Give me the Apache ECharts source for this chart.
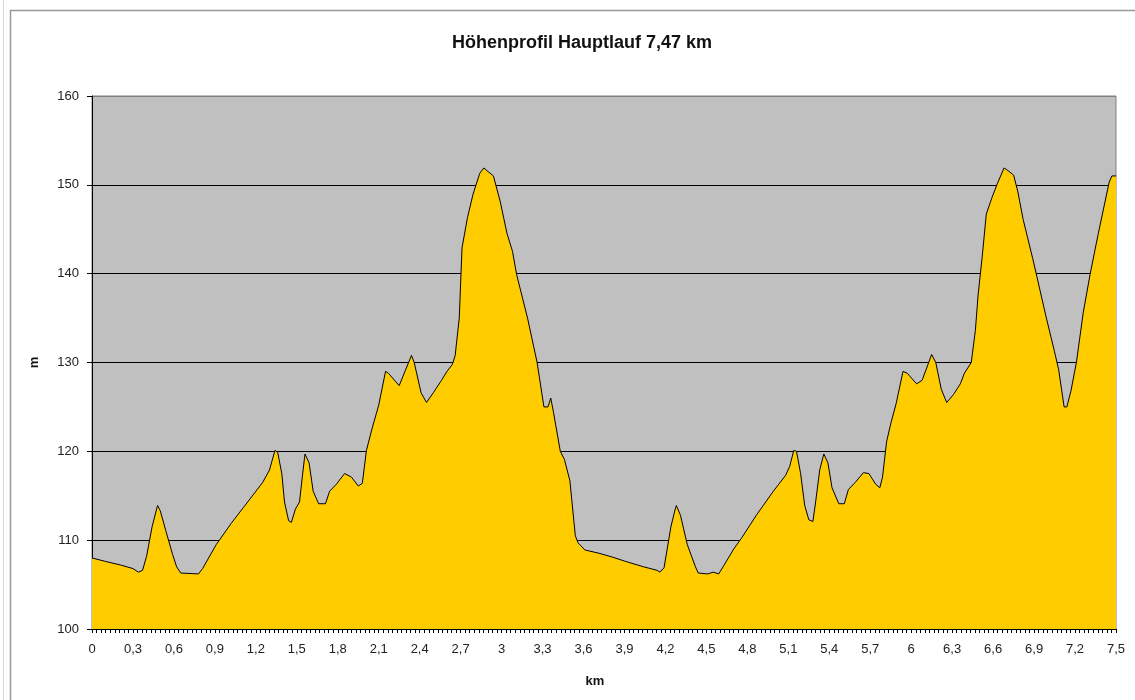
<!DOCTYPE html>
<html lang="de">
<head>
    <meta charset="UTF-8">
    <title>Höhenprofil</title>
    <script src="https://cdn.jsdelivr.net/npm/echarts@6/dist/echarts.min.js"></script>
</head>
<body style="margin:0;background:#fff">
    <div id="main" style="width:1135px;height:700px"></div>
    <script type="text/javascript">
        var kmPts = [
            0, 0.10, 0.21, 0.30, 0.34, 0.37, 0.40, 0.44, 0.48, 0.50, 0.54, 0.59, 0.62, 0.65, 0.78, 0.81,
            0.91, 1.02, 1.11, 1.25, 1.30, 1.34, 1.36, 1.39, 1.41, 1.44, 1.46, 1.49, 1.52, 1.54, 1.56, 1.59,
            1.62, 1.66, 1.71, 1.74, 1.79, 1.85, 1.90, 1.95, 1.98, 2.01, 2.05, 2.10, 2.15, 2.17, 2.25, 2.26,
            2.34, 2.36, 2.41, 2.45, 2.50, 2.56, 2.60, 2.64, 2.66, 2.69, 2.71, 2.75, 2.79, 2.84, 2.87, 2.90,
            2.94, 2.99, 3.04, 3.08, 3.11, 3.19, 3.26, 3.31, 3.34, 3.36, 3.38, 3.43, 3.46, 3.50, 3.54, 3.56,
            3.61, 3.72, 3.81, 3.91, 4.04, 4.14, 4.16, 4.19, 4.24, 4.27, 4.28, 4.31, 4.36, 4.42, 4.44, 4.51,
            4.55, 4.59, 4.63, 4.70, 4.76, 4.87, 4.99, 5.08, 5.11, 5.14, 5.16, 5.19, 5.22, 5.25, 5.28, 5.30,
            5.33, 5.36, 5.39, 5.42, 5.47, 5.51, 5.54, 5.59, 5.65, 5.69, 5.74, 5.77, 5.79, 5.82, 5.85, 5.89,
            5.94, 5.97, 6.04, 6.08, 6.15, 6.18, 6.22, 6.26, 6.31, 6.36, 6.39, 6.44, 6.47, 6.49, 6.52, 6.55,
            6.59, 6.63, 6.68, 6.70, 6.75, 6.78, 6.82, 6.89, 6.92, 6.99, 7.05, 7.08, 7.12, 7.14, 7.17, 7.21,
            7.26, 7.31, 7.37, 7.45, 7.47, 7.50
        ];
        var elevPts = [
            108.0, 107.6, 107.2, 106.8, 106.4, 106.6, 108.2, 111.5, 113.9, 113.3, 111.1, 108.4, 107.0, 106.3, 106.2, 106.8,
            109.5, 111.9, 113.7, 116.5, 117.9, 120.1, 119.9, 117.5, 114.3, 112.2, 112.0, 113.5, 114.3, 117.1, 119.7, 118.7,
            115.5, 114.1, 114.1, 115.5, 116.3, 117.5, 117.1, 116.1, 116.4, 120.1, 122.5, 125.2, 129.0, 128.8, 127.4, 127.6,
            130.8, 130.0, 126.6, 125.5, 126.6, 128.0, 129.0, 129.8, 130.8, 135.0, 142.9, 146.3, 148.9, 151.3, 151.9, 151.5,
            151.0, 148.1, 144.5, 142.5, 139.9, 135.0, 130.0, 125.0, 125.0, 126.0, 124.4, 120.0, 119.1, 116.7, 110.5, 109.7,
            108.9, 108.5, 108.1, 107.6, 107.0, 106.6, 106.4, 106.9, 111.5, 113.4, 113.9, 112.8, 109.5, 107.0, 106.3, 106.2,
            106.4, 106.2, 107.2, 109.0, 110.3, 112.9, 115.5, 117.3, 118.3, 120.1, 120.0, 117.5, 113.9, 112.3, 112.1, 114.3,
            117.9, 119.7, 118.7, 115.9, 114.1, 114.1, 115.7, 116.5, 117.6, 117.5, 116.3, 115.9, 117.1, 121.1, 123.1, 125.4,
            129.0, 128.8, 127.6, 128.0, 130.9, 130.0, 127.0, 125.5, 126.4, 127.6, 128.8, 130.0, 133.6, 137.6, 141.9, 146.7,
            148.5, 150.1, 151.9, 151.7, 151.1, 149.3, 146.1, 141.7, 139.7, 135.0, 131.2, 129.2, 125.0, 125.0, 126.8, 130.0,
            135.6, 139.9, 144.5, 150.3, 151.0, 151.0
        ];
        var yTicks = [100, 110, 120, 130, 140, 150, 160];

        var myChart = echarts.init(document.getElementById('main'));

        var points = kmPts.map(function (k, i) { return [k, elevPts[i]]; });
        // oberste Linie = Rahmen der Zeichenfläche (grau)
        var gridColors = yTicks.map(function (t, i) { return i === yTicks.length - 1 ? '#808080' : '#000000'; });

        var option = {
            backgroundColor: '#ffffff',
            animation: false,
            title: {
                text: 'Höhenprofil Hauptlauf 7,47 km',
                left: 577,
                textAlign: 'center',
                top: 29,
                textStyle: { fontFamily: 'Liberation Sans', fontSize: 18, fontWeight: 'bold', color: '#111' }
            },
            graphic: [
                { type: 'rect', shape: { x: 10.5, y: 10.5, width: 1200, height: 800 }, style: { fill: null, stroke: '#999', lineWidth: 1.5 } },
                { type: 'line', shape: { x1: 3.5, y1: 0, x2: 3.5, y2: 700 }, style: { stroke: '#d8d8d8', lineWidth: 1 } }
            ],
            grid: {
                left: 92, right: 19, top: 96, bottom: 71,
                show: true,
                backgroundColor: '#C0C0C0',
                borderColor: '#808080',
                borderWidth: 1
            },
            xAxis: {
                type: 'value',
                min: 0,
                max: 7.5,
                interval: 0.3,
                name: 'km',
                nameLocation: 'middle',
                nameGap: 46,
                nameTextStyle: { fontFamily: 'Liberation Sans', fontSize: 13, fontWeight: 'bold', color: '#111', padding: [0, 18, 0, 0] },
                axisLine: { show: true, lineStyle: { color: '#000', width: 1 } },
                axisTick: { show: true, length: 4, lineStyle: { color: '#000' } },
                minorTick: { show: true, splitNumber: 9, length: 4, lineStyle: { color: '#000' } },
                splitLine: { show: false },
                axisLabel: {
                    margin: 14,
                    fontFamily: 'Liberation Sans', fontSize: 13, color: '#222',
                    formatter: function (v) { return String(Math.round(v * 10) / 10).replace('.', ','); }
                }
            },
            yAxis: {
                type: 'value',
                min: 100,
                max: 160,
                interval: 10,
                name: 'm',
                nameLocation: 'middle',
                nameGap: 51,
                nameRotate: 90,
                nameTextStyle: { fontFamily: 'Liberation Sans', fontSize: 13, fontWeight: 'bold', color: '#111' },
                axisLine: { show: true, lineStyle: { color: '#000', width: 1 } },
                axisTick: { show: true, length: 5, lineStyle: { color: '#000' } },
                splitLine: { show: true, lineStyle: { color: gridColors, width: 1 } },
                axisLabel: { margin: 13, fontFamily: 'Liberation Sans', fontSize: 13, color: '#222' }
            },
            series: [{
                type: 'line',
                data: points,
                showSymbol: false,
                lineStyle: { color: '#000', width: 1 },
                areaStyle: { color: '#FFCC00', opacity: 1, origin: 'start' }
            }]
        };
        myChart.setOption(option);
    </script>
</body>
</html>
